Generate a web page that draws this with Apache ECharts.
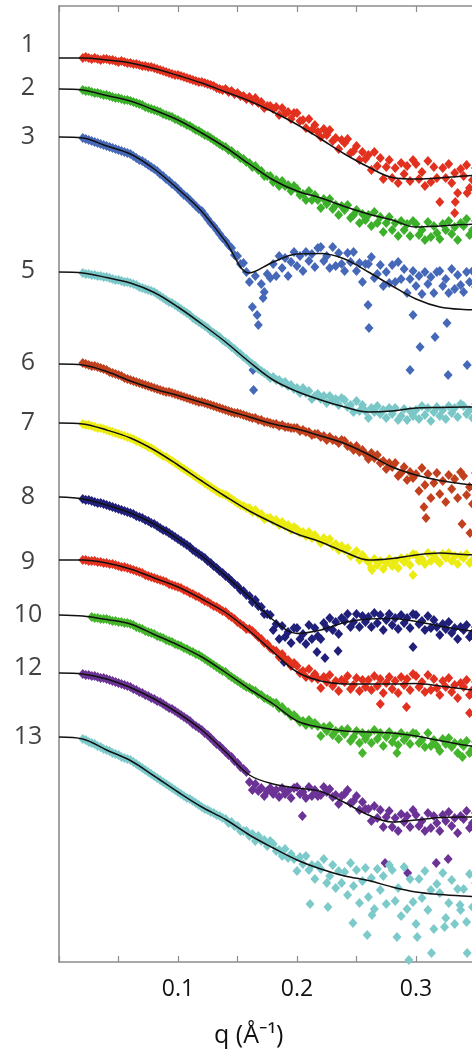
<!DOCTYPE html>
<html>
<head>
<meta charset="utf-8">
<script src="https://cdn.jsdelivr.net/npm/echarts@6/dist/echarts.min.js"></script>
<style>
  html, body { margin: 0; padding: 0; background: #fff; }
  #chart { width: 472px; height: 1055px; }
</style>
</head>
<body>
<div id="chart"></div>
<script>
// Scattering vector q (1/Å) at which each profile was sampled
const qData = [
  0.02, 0.0225, 0.025, 0.0275, 0.03, 0.0325, 0.035, 0.0375,
  0.04, 0.0425, 0.045, 0.0475, 0.05, 0.0525, 0.055, 0.0575,
  0.06, 0.0625, 0.065, 0.0675, 0.07, 0.0725, 0.075, 0.0775,
  0.08, 0.0825, 0.085, 0.0875, 0.09, 0.0925, 0.095, 0.0975,
  0.10, 0.1025, 0.105, 0.1075, 0.11, 0.1125, 0.115, 0.1175,
  0.12, 0.1225, 0.125, 0.1275, 0.13, 0.1325, 0.135, 0.1375,
  0.14, 0.1425, 0.145, 0.1475, 0.15, 0.1525, 0.155, 0.1575,
  0.16, 0.1625, 0.165, 0.1675, 0.17, 0.1725, 0.175, 0.1775,
  0.18, 0.1825, 0.185, 0.1875, 0.19, 0.1925, 0.195, 0.1975,
  0.20, 0.2025, 0.205, 0.2075, 0.21, 0.2125, 0.215, 0.2175,
  0.22, 0.2225, 0.225, 0.2275, 0.23, 0.2325, 0.235, 0.2375,
  0.24, 0.2425, 0.245, 0.2475, 0.25, 0.2525, 0.255, 0.2575,
  0.26, 0.2625, 0.265, 0.2675, 0.27, 0.2725, 0.275, 0.2775,
  0.28, 0.2825, 0.285, 0.2875, 0.29, 0.2925, 0.295, 0.2975,
  0.30, 0.3025, 0.305, 0.3075, 0.31, 0.3125, 0.315, 0.3175,
  0.32, 0.3225, 0.325, 0.3275, 0.33, 0.3325, 0.335, 0.3375,
  0.34, 0.3425, 0.345, 0.3475, 0.35
];

// q values at which the model curves are tabulated
const fitQ = [0, 0.02, 0.04, 0.06, 0.08, 0.10, 0.12, 0.14, 0.16, 0.18, 0.20,
              0.22, 0.24, 0.26, 0.28, 0.30, 0.32, 0.34, 0.36, 0.38, 0.40];

// Sample numbers and the log-intensity level where each label sits
const sampleNames = ['1', '2', '3', '5', '6', '7', '8', '9', '10', '12', '13'];
const labelLevels = [9.17, 8.74, 8.25, 6.91, 5.99, 5.39, 4.65, 4.00, 3.47, 2.94, 2.25];

// Bottom axis tick labels that are printed
const qTickLabels = ['0.1', '0.2', '0.3'];

// Measured profiles: log I (offset), one value per qData entry
const data1 = [
  9.04, 9.05, 9.04, 9.03, 9.04, 9.03, 9.02, 9.03,
  9.03, 9.02, 9.02, 9.01, 9.00, 9.01, 9.00, 8.99,
  8.99, 8.98, 8.98, 8.97, 8.96, 8.96, 8.95, 8.95,
  8.94, 8.93, 8.92, 8.91, 8.90, 8.89, 8.88, 8.87,
  8.87, 8.86, 8.85, 8.84, 8.83, 8.82, 8.81, 8.80,
  8.80, 8.79, 8.78, 8.77, 8.76, 8.74, 8.73, 8.72,
  8.73, 8.70, 8.71, 8.68, 8.69, 8.66, 8.66, 8.63,
  8.65, 8.61, 8.64, 8.59, 8.60, 8.54, 8.56, 8.56,
  8.53, 8.55, 8.47, 8.54, 8.48, 8.50, 8.43, 8.49,
  8.49, 8.41, 8.42, 8.34, 8.43, 8.32, 8.37, 8.30,
  8.25, 8.33, 8.27, 8.32, 8.21, 8.24, 8.13, 8.22,
  8.19, 8.23, 8.09, 8.11, 8.16, 8.02, 8.10, 8.03,
  8.07, 7.92, 8.10, 7.96, 8.04, 7.83, 7.95, 8.02,
  7.84, 7.94, 7.79, 7.99, 7.88, 7.96, 7.81, 8.02,
  7.98, 7.83, 7.90, 7.76, 8.01, 7.80, 7.95, 7.84,
  7.60, 7.94, 7.84, 7.98, 7.79, 7.89, 7.69, 7.93,
  7.86, 7.97, 7.74, 7.82, 7.94
];
const data2 = [
  8.72, 8.71, 8.71, 8.70, 8.69, 8.69, 8.68, 8.67,
  8.67, 8.66, 8.65, 8.64, 8.64, 8.63, 8.62, 8.62,
  8.61, 8.60, 8.59, 8.58, 8.57, 8.55, 8.54, 8.53,
  8.52, 8.51, 8.50, 8.48, 8.47, 8.46, 8.45, 8.43,
  8.42, 8.40, 8.39, 8.37, 8.36, 8.34, 8.32, 8.31,
  8.29, 8.27, 8.26, 8.24, 8.22, 8.20, 8.18, 8.16,
  8.15, 8.12, 8.11, 8.08, 8.07, 8.04, 8.03, 8.00,
  7.99, 7.95, 7.96, 7.92, 7.91, 7.86, 7.86, 7.86,
  7.80, 7.82, 7.76, 7.81, 7.76, 7.77, 7.71, 7.76,
  7.73, 7.67, 7.68, 7.62, 7.71, 7.62, 7.67, 7.62,
  7.54, 7.63, 7.58, 7.63, 7.53, 7.57, 7.47, 7.56,
  7.52, 7.57, 7.44, 7.47, 7.52, 7.39, 7.48, 7.42,
  7.47, 7.36, 7.50, 7.39, 7.45, 7.30, 7.39, 7.45,
  7.32, 7.39, 7.26, 7.41, 7.32, 7.38, 7.26, 7.41,
  7.38, 7.27, 7.32, 7.22, 7.40, 7.25, 7.36, 7.29,
  7.23, 7.38, 7.32, 7.41, 7.28, 7.35, 7.22, 7.39,
  7.36, 7.43, 7.27, 7.32, 7.41
];
const data3 = [
  8.24, 8.23, 8.22, 8.21, 8.20, 8.19, 8.18, 8.17,
  8.16, 8.15, 8.14, 8.13, 8.12, 8.11, 8.10, 8.09,
  8.08, 8.06, 8.04, 8.02, 8.01, 7.99, 7.97, 7.95,
  7.93, 7.91, 7.88, 7.86, 7.83, 7.81, 7.78, 7.76,
  7.73, 7.70, 7.67, 7.65, 7.62, 7.59, 7.56, 7.53,
  7.51, 7.47, 7.43, 7.39, 7.36, 7.32, 7.28, 7.24,
  7.21, 7.17, 7.14, 7.07, 7.06, 6.98, 6.99, 6.90,
  6.80, 6.55, 6.86, 6.37, 6.78, 6.70, 6.88, 6.84,
  6.98, 6.86, 7.06, 6.94, 7.04, 6.86, 7.00, 7.10,
  6.96, 7.06, 6.91, 7.10, 7.01, 7.08, 6.95, 7.14,
  7.15, 7.01, 7.06, 6.94, 7.15, 6.96, 7.09, 6.98,
  6.91, 7.09, 7.00, 7.10, 6.91, 6.99, 6.80, 6.98,
  6.98, 7.05, 6.84, 6.88, 6.97, 6.76, 6.90, 6.79,
  6.97, 6.80, 7.00, 6.83, 6.93, 6.69, 6.83, 6.91,
  6.76, 6.86, 6.68, 6.90, 6.78, 6.85, 6.69, 6.90,
  6.91, 6.76, 6.83, 6.69, 6.93, 6.73, 6.87, 6.77,
  6.70, 6.90, 6.80, 6.91, 6.75
];
const data5 = [
  6.89, 6.88, 6.88, 6.87, 6.87, 6.86, 6.86, 6.85,
  6.85, 6.84, 6.83, 6.82, 6.82, 6.81, 6.80, 6.80,
  6.79, 6.78, 6.77, 6.75, 6.74, 6.73, 6.72, 6.71,
  6.70, 6.68, 6.66, 6.64, 6.62, 6.60, 6.59, 6.57,
  6.55, 6.53, 6.51, 6.49, 6.47, 6.44, 6.42, 6.40,
  6.38, 6.36, 6.34, 6.31, 6.29, 6.27, 6.25, 6.22,
  6.20, 6.18, 6.15, 6.13, 6.10, 6.08, 6.05, 6.03,
  6.00, 5.98, 5.96, 5.93, 5.91, 5.89, 5.87, 5.84,
  5.85, 5.82, 5.82, 5.79, 5.80, 5.76, 5.77, 5.73,
  5.74, 5.69, 5.74, 5.69, 5.71, 5.63, 5.66, 5.68,
  5.63, 5.66, 5.59, 5.66, 5.61, 5.63, 5.57, 5.64,
  5.62, 5.55, 5.57, 5.50, 5.61, 5.51, 5.57, 5.51,
  5.44, 5.54, 5.50, 5.56, 5.48, 5.52, 5.44, 5.54,
  5.48, 5.54, 5.42, 5.46, 5.53, 5.42, 5.51, 5.46,
  5.52, 5.43, 5.56, 5.47, 5.54, 5.41, 5.50, 5.55,
  5.46, 5.52, 5.43, 5.56, 5.49, 5.54, 5.45, 5.58,
  5.56, 5.48, 5.52, 5.44, 5.58
];
const data6 = [
  5.99, 5.98, 5.97, 5.96, 5.96, 5.95, 5.94, 5.93,
  5.92, 5.90, 5.89, 5.88, 5.87, 5.86, 5.84, 5.83,
  5.82, 5.81, 5.80, 5.79, 5.78, 5.77, 5.76, 5.75,
  5.74, 5.73, 5.72, 5.71, 5.70, 5.70, 5.69, 5.68,
  5.67, 5.66, 5.65, 5.64, 5.63, 5.62, 5.61, 5.60,
  5.60, 5.59, 5.58, 5.57, 5.56, 5.55, 5.54, 5.53,
  5.52, 5.51, 5.50, 5.49, 5.49, 5.48, 5.47, 5.46,
  5.45, 5.44, 5.44, 5.42, 5.42, 5.40, 5.40, 5.39,
  5.38, 5.38, 5.36, 5.37, 5.35, 5.35, 5.34, 5.34,
  5.34, 5.31, 5.32, 5.30, 5.30, 5.27, 5.28, 5.28,
  5.25, 5.26, 5.22, 5.25, 5.22, 5.22, 5.19, 5.22,
  5.21, 5.16, 5.16, 5.12, 5.16, 5.10, 5.12, 5.08,
  5.03, 5.09, 5.04, 5.07, 4.99, 5.01, 4.93, 4.99,
  4.95, 4.99, 4.86, 4.89, 4.95, 4.82, 4.90, 4.84,
  4.88, 4.71, 4.94, 4.77, 4.88, 4.64, 4.79, 4.89,
  4.68, 4.81, 4.60, 4.87, 4.73, 4.83, 4.64, 4.90,
  4.86, 4.67, 4.75, 4.58, 4.89
];
const data7 = [
  5.38, 5.37, 5.37, 5.36, 5.35, 5.34, 5.34, 5.33,
  5.32, 5.31, 5.30, 5.29, 5.28, 5.27, 5.26, 5.25,
  5.24, 5.23, 5.21, 5.20, 5.18, 5.17, 5.15, 5.14,
  5.12, 5.10, 5.08, 5.06, 5.05, 5.03, 5.01, 4.99,
  4.97, 4.95, 4.93, 4.91, 4.89, 4.87, 4.85, 4.83,
  4.81, 4.79, 4.77, 4.75, 4.73, 4.71, 4.69, 4.68,
  4.67, 4.65, 4.63, 4.61, 4.59, 4.57, 4.56, 4.54,
  4.54, 4.50, 4.52, 4.48, 4.48, 4.43, 4.44, 4.44,
  4.41, 4.42, 4.37, 4.40, 4.36, 4.37, 4.32, 4.35,
  4.33, 4.29, 4.30, 4.26, 4.30, 4.24, 4.27, 4.23,
  4.19, 4.24, 4.21, 4.23, 4.16, 4.18, 4.12, 4.16,
  4.12, 4.14, 4.06, 4.08, 4.11, 4.02, 4.07, 4.03,
  4.00, 3.94, 4.03, 3.97, 4.01, 3.93, 3.99, 4.03,
  3.96, 4.01, 3.94, 4.04, 4.00, 4.04, 3.97, 4.08,
  4.07, 4.01, 4.03, 3.98, 4.09, 4.01, 4.07, 4.02,
  3.99, 4.08, 4.04, 4.09, 4.01, 4.06, 3.98, 4.06,
  4.04, 4.08, 3.99, 4.02, 4.07
];
const data8 = [
  4.63, 4.62, 4.62, 4.61, 4.60, 4.59, 4.59, 4.58,
  4.57, 4.56, 4.55, 4.54, 4.53, 4.52, 4.51, 4.50,
  4.49, 4.48, 4.46, 4.45, 4.44, 4.42, 4.41, 4.39,
  4.38, 4.36, 4.34, 4.32, 4.31, 4.29, 4.27, 4.25,
  4.23, 4.21, 4.19, 4.17, 4.15, 4.12, 4.10, 4.08,
  4.06, 4.04, 4.01, 3.99, 3.96, 3.94, 3.91, 3.89,
  3.86, 3.84, 3.81, 3.78, 3.76, 3.72, 3.71, 3.67,
  3.66, 3.60, 3.62, 3.56, 3.55, 3.48, 3.48, 3.47,
  3.32, 3.38, 3.23, 3.36, 3.25, 3.30, 3.19, 3.34,
  3.34, 3.23, 3.28, 3.18, 3.37, 3.23, 3.34, 3.26,
  3.23, 3.39, 3.34, 3.44, 3.32, 3.40, 3.28, 3.44,
  3.41, 3.48, 3.35, 3.40, 3.48, 3.35, 3.46, 3.40,
  3.45, 3.35, 3.49, 3.39, 3.47, 3.32, 3.42, 3.48,
  3.37, 3.44, 3.33, 3.47, 3.39, 3.44, 3.34, 3.48,
  3.47, 3.38, 3.41, 3.32, 3.46, 3.34, 3.42, 3.35,
  3.27, 3.38, 3.33, 3.40, 3.29, 3.34, 3.23, 3.35,
  3.32, 3.37, 3.25, 3.29, 3.35
];
const data9 = [
  4.02, 4.02, 4.01, 4.01, 4.01, 4.00, 4.00, 3.99,
  3.99, 3.98, 3.98, 3.97, 3.96, 3.95, 3.95, 3.94,
  3.93, 3.92, 3.91, 3.90, 3.89, 3.87, 3.86, 3.85,
  3.84, 3.83, 3.82, 3.81, 3.80, 3.78, 3.77, 3.76,
  3.75, 3.74, 3.72, 3.71, 3.69, 3.68, 3.66, 3.65,
  3.63, 3.61, 3.60, 3.58, 3.56, 3.55, 3.53, 3.51,
  3.50, 3.47, 3.45, 3.43, 3.40, 3.38, 3.36, 3.33,
  3.33, 3.31, 3.28, 3.25, 3.23, 3.19, 3.18, 3.14,
  3.12, 3.11, 3.05, 3.08, 3.03, 3.02, 2.96, 2.99,
  2.96, 2.89, 2.91, 2.85, 2.93, 2.84, 2.88, 2.83,
  2.74, 2.85, 2.80, 2.87, 2.76, 2.81, 2.71, 2.82,
  2.80, 2.86, 2.73, 2.77, 2.84, 2.71, 2.82, 2.75,
  2.82, 2.72, 2.86, 2.76, 2.83, 2.69, 2.79, 2.85,
  2.73, 2.81, 2.69, 2.85, 2.77, 2.83, 2.72, 2.88,
  2.86, 2.75, 2.80, 2.70, 2.87, 2.72, 2.83, 2.74,
  2.67, 2.81, 2.75, 2.84, 2.70, 2.77, 2.64, 2.79,
  2.75, 2.82, 2.67, 2.72, 2.80
];
const data10 = [
  null, null, null, 3.45, 3.44, 3.44, 3.43, 3.43,
  3.43, 3.42, 3.41, 3.41, 3.40, 3.40, 3.39, 3.39,
  3.38, 3.37, 3.35, 3.34, 3.33, 3.31, 3.30, 3.29,
  3.28, 3.26, 3.25, 3.24, 3.22, 3.21, 3.20, 3.18,
  3.17, 3.16, 3.14, 3.13, 3.11, 3.10, 3.08, 3.07,
  3.05, 3.03, 3.01, 2.99, 2.97, 2.95, 2.93, 2.91,
  2.90, 2.87, 2.85, 2.83, 2.81, 2.79, 2.77, 2.75,
  2.74, 2.72, 2.71, 2.68, 2.67, 2.64, 2.63, 2.61,
  2.59, 2.59, 2.54, 2.55, 2.51, 2.50, 2.46, 2.47,
  2.44, 2.40, 2.41, 2.37, 2.42, 2.37, 2.39, 2.36,
  2.26, 2.35, 2.31, 2.36, 2.27, 2.31, 2.23, 2.32,
  2.28, 2.33, 2.21, 2.25, 2.31, 2.19, 2.29, 2.23,
  2.28, 2.19, 2.32, 2.23, 2.29, 2.16, 2.25, 2.30,
  2.20, 2.26, 2.17, 2.29, 2.22, 2.26, 2.18, 2.29,
  2.28, 2.19, 2.22, 2.15, 2.29, 2.16, 2.22, 2.16,
  2.11, 2.23, 2.18, 2.24, 2.15, 2.19, 2.09, 2.19,
  2.16, 2.21, 2.09, 2.13, 2.20
];
const data12 = [
  2.88, 2.87, 2.87, 2.86, 2.86, 2.85, 2.84, 2.84,
  2.83, 2.82, 2.81, 2.80, 2.79, 2.78, 2.77, 2.76,
  2.75, 2.73, 2.72, 2.70, 2.69, 2.67, 2.66, 2.64,
  2.63, 2.61, 2.60, 2.58, 2.56, 2.54, 2.53, 2.51,
  2.49, 2.47, 2.45, 2.43, 2.41, 2.38, 2.36, 2.34,
  2.32, 2.29, 2.27, 2.24, 2.21, 2.18, 2.16, 2.13,
  2.10, 2.07, 2.05, 2.01, 1.99, 1.95, 1.93, 1.90,
  1.80, 1.72, 1.78, 1.71, 1.74, 1.66, 1.71, 1.74,
  1.68, 1.72, 1.65, 1.74, 1.68, 1.71, 1.64, 1.74,
  1.75, 1.68, 1.70, 1.64, 1.75, 1.66, 1.72, 1.66,
  1.67, 1.75, 1.70, 1.73, 1.65, 1.67, 1.58, 1.66,
  1.68, 1.72, 1.59, 1.61, 1.66, 1.52, 1.60, 1.53,
  1.53, 1.41, 1.56, 1.44, 1.52, 1.35, 1.45, 1.51,
  1.35, 1.44, 1.31, 1.48, 1.40, 1.46, 1.35, 1.52,
  1.47, 1.36, 1.41, 1.31, 1.49, 1.34, 1.46, 1.39,
  1.31, 1.47, 1.41, 1.50, 1.36, 1.44, 1.29, 1.46,
  1.43, 1.51, 1.34, 1.39, 1.49
];
const data13 = [
  2.23, 2.22, 2.20, 2.19, 2.18, 2.16, 2.15, 2.13,
  2.12, 2.11, 2.09, 2.08, 2.07, 2.05, 2.04, 2.03,
  2.02, 2.00, 1.98, 1.96, 1.94, 1.92, 1.90, 1.88,
  1.86, 1.84, 1.82, 1.80, 1.78, 1.76, 1.74, 1.72,
  1.70, 1.68, 1.66, 1.64, 1.63, 1.61, 1.59, 1.57,
  1.55, 1.53, 1.52, 1.50, 1.49, 1.47, 1.46, 1.44,
  1.43, 1.39, 1.40, 1.36, 1.36, 1.31, 1.31, 1.31,
  1.26, 1.28, 1.21, 1.26, 1.21, 1.22, 1.16, 1.21,
  1.18, 1.11, 1.12, 1.06, 1.13, 1.04, 1.08, 1.03,
  0.91, 1.05, 0.98, 1.06, 0.92, 0.97, 0.83, 0.97,
  0.93, 1.03, 0.79, 0.86, 0.97, 0.74, 0.91, 0.79,
  0.90, 0.67, 0.99, 0.76, 0.92, 0.59, 0.81, 0.94,
  0.65, 0.84, 0.53, 0.93, 0.72, 0.86, 0.58, 0.97,
  0.92, 0.61, 0.74, 0.46, 0.95, 0.53, 0.83, 0.60,
  0.38, 0.83, 0.64, 0.91, 0.52, 0.72, 0.33, 0.78,
  0.69, 0.89, 0.44, 0.59, 0.82, 0.38, 0.73, 0.52,
  0.73, 0.40, 0.88, 0.55, 0.79
];

// Isolated points lying off the main trend, as [q, log I]
const stray1 = [[0.333, 7.60], [0.3325, 7.49], [0.343, 7.69]];
const stray2 = [];
const stray3 = [[0.163, 5.92], [0.1635, 5.72], [0.1665, 6.47], [0.1715, 6.64], [0.2597, 6.57],
                [0.2605, 6.34], [0.2975, 6.47], [0.3034, 6.15], [0.295, 5.92], [0.316, 6.25],
                [0.327, 5.87], [0.326, 6.39], [0.343, 5.97]];
const stray5 = [];
const stray6 = [[0.3067, 4.55], [0.3084, 4.44], [0.3387, 4.38], [0.3454, 4.29]];
const stray7 = [[0.2975, 3.87], [0.263, 3.92]];
const stray8 = [[0.1891, 3.00], [0.2168, 3.10], [0.2235, 3.04], [0.2345, 3.11], [0.2975, 3.15]];
const stray9 = [[0.270, 2.58], [0.292, 2.55], [0.345, 2.49]];
const stray10 = [[0.255, 2.09], [0.284, 2.09], [0.339, 2.05]];
const stray12 = [[0.2045, 1.46], [0.274, 0.99], [0.293, 0.89], [0.317, 0.99], [0.327, 1.03]];
const stray13 = [[0.247, 0.39], [0.259, 0.27], [0.284, 0.25], [0.294, 0.02], [0.301, 0.25],
                 [0.313, 0.09], [0.324, 0.35], [0.343, 0.09], [0.211, 0.58], [0.226, 0.55],
                 [0.337, 0.57], [0.263, 0.47]];

// Model curves, one value per fitQ entry
const fit1 = [9.04, 9.04, 9.02, 8.99, 8.935, 8.865, 8.79, 8.70, 8.61, 8.50, 8.375, 8.23, 8.08, 7.95, 7.845, 7.83, 7.84, 7.86, 7.87, 7.87, 7.87];
const fit2 = [8.73, 8.72, 8.665, 8.61, 8.52, 8.42, 8.29, 8.145, 7.98, 7.82, 7.71, 7.64, 7.555, 7.48, 7.42, 7.35, 7.36, 7.375, 7.38, 7.38, 7.38];
const fit3 = [8.25, 8.24, 8.16, 8.08, 7.93, 7.73, 7.505, 7.205, 6.89, 7.00, 7.08, 7.085, 7.03, 6.90, 6.76, 6.63, 6.55, 6.525, 6.52, 6.52, 6.52];
const fit5 = [6.90, 6.89, 6.845, 6.79, 6.695, 6.55, 6.38, 6.20, 6.00, 5.82, 5.705, 5.62, 5.55, 5.50, 5.51, 5.54, 5.545, 5.55, 5.55, 5.55, 5.55];
const fit6 = [5.98, 5.97, 5.905, 5.81, 5.73, 5.665, 5.595, 5.52, 5.45, 5.38, 5.33, 5.26, 5.185, 5.075, 4.95, 4.87, 4.815, 4.78, 4.76, 4.75, 4.74];
const fit7 = [5.39, 5.38, 5.32, 5.24, 5.12, 4.97, 4.81, 4.655, 4.51, 4.39, 4.28, 4.20, 4.10, 4.02, 4.035, 4.07, 4.09, 4.075, 4.07, 4.07, 4.07];
const fit8 = [4.65, 4.63, 4.57, 4.49, 4.38, 4.23, 4.06, 3.86, 3.65, 3.42, 3.285, 3.32, 3.395, 3.43, 3.435, 3.405, 3.36, 3.32, 3.29, 3.27, 3.26];
const fit9 = [4.02, 4.02, 3.99, 3.93, 3.84, 3.75, 3.63, 3.495, 3.31, 3.10, 2.90, 2.81, 2.78, 2.78, 2.78, 2.785, 2.76, 2.73, 2.71, 2.70, 2.69];
const fit10 = [3.47, 3.46, 3.425, 3.38, 3.275, 3.17, 3.05, 2.895, 2.73, 2.58, 2.41, 2.345, 2.31, 2.30, 2.29, 2.26, 2.215, 2.17, 2.14, 2.12, 2.10];
const fit12 = [2.89, 2.88, 2.83, 2.745, 2.63, 2.49, 2.32, 2.10, 1.87, 1.78, 1.74, 1.705, 1.595, 1.47, 1.40, 1.42, 1.445, 1.45, 1.45, 1.45, 1.45];
const fit13 = [2.25, 2.23, 2.12, 2.015, 1.86, 1.70, 1.55, 1.425, 1.27, 1.14, 1.02, 0.93, 0.86, 0.815, 0.75, 0.70, 0.675, 0.66, 0.65, 0.64, 0.64];

const profiles = [data1, data2, data3, data5, data6, data7, data8, data9, data10, data12, data13];
const strays = [stray1, stray2, stray3, stray5, stray6, stray7, stray8, stray9, stray10, stray12, stray13];
const fits = [fit1, fit2, fit3, fit5, fit6, fit7, fit8, fit9, fit10, fit12, fit13];

const pointColors = ['#e2311f', '#3cb02a', '#4668b8', '#7ac7c8', '#c1411f', '#ecec12',
                     '#20207a', '#e2311f', '#45b52c', '#6c3396', '#7dcacb'];

const axisGray = '#8c8c8c';
const textDark = '#111';
const fontFam = '"Open Sans", "Noto Sans", sans-serif';

const series = [];

// measured points
profiles.forEach((vals, i) => {
  const pts = [];
  vals.forEach((v, k) => { if (v !== null) pts.push([qData[k], v]); });
  strays[i].forEach(p => pts.push(p));
  series.push({
    type: 'scatter',
    data: pts,
    symbol: 'diamond',
    symbolSize: [9, 10],
    itemStyle: { color: pointColors[i], opacity: 1 },
    silent: true,
    z: 2
  });
});

// model curves
fits.forEach(vals => {
  series.push({
    type: 'line',
    data: vals.map((v, k) => [fitQ[k], v]),
    smooth: 0.35,
    showSymbol: false,
    symbol: 'none',
    lineStyle: { color: '#111', width: 1.5 },
    silent: true,
    z: 3
  });
});

// sample number labels at the left of each profile
series.push({
  type: 'scatter',
  data: labelLevels.map((v, i) => ({ value: [0, v], name: sampleNames[i] })),
  symbolSize: 1,
  itemStyle: { color: 'rgba(0,0,0,0)' },
  clip: false,
  silent: true,
  label: {
    show: true,
    formatter: '{b}',
    position: 'inside',
    offset: [-31, 0],
    color: textDark,
    fontSize: 25,
    fontFamily: fontFam
  },
  z: 4
});

const baseX = {
  type: 'value',
  min: 0,
  max: 0.4,
  interval: 0.05,
  splitLine: { show: false },
  axisLine: { show: true, onZero: false, lineStyle: { color: axisGray, width: 1.6 } },
  axisTick: { show: true, inside: true, length: 6, lineStyle: { color: axisGray, width: 1.2 } }
};

const chart = echarts.init(document.getElementById('chart'), null, { renderer: 'canvas' });
chart.setOption({
  animation: false,
  backgroundColor: '#fff',
  grid: { left: 59, top: 6, width: 476, height: 956, outerBoundsMode: 'none', containLabel: false },
  xAxis: [
    Object.assign({}, baseX, {
      position: 'bottom',
      axisLabel: {
        show: true,
        margin: 16,
        fontSize: 23,
        color: textDark,
        fontFamily: fontFam,
        showMinLabel: true,
        showMaxLabel: true,
        formatter: v => {
          const s = v.toFixed(1);
          return (Math.abs(v * 10 - Math.round(v * 10)) < 1e-6 && qTickLabels.includes(s)) ? s : '';
        }
      }
    }),
    Object.assign({}, baseX, {
      position: 'top',
      axisLabel: { show: false }
    })
  ],
  yAxis: {
    type: 'value',
    min: 0,
    max: 9.56,
    splitLine: { show: false },
    axisLine: { show: true, onZero: false, lineStyle: { color: axisGray, width: 1.6 } },
    axisTick: { show: false },
    axisLabel: { show: false }
  },
  graphic: [{
    type: 'text',
    left: 214,
    top: 1023,
    style: { text: 'q (Å⁻¹)', font: '25px "Open Sans", "Noto Sans", sans-serif', fill: textDark }
  }],
  series: series
});
</script>
</body>
</html>
